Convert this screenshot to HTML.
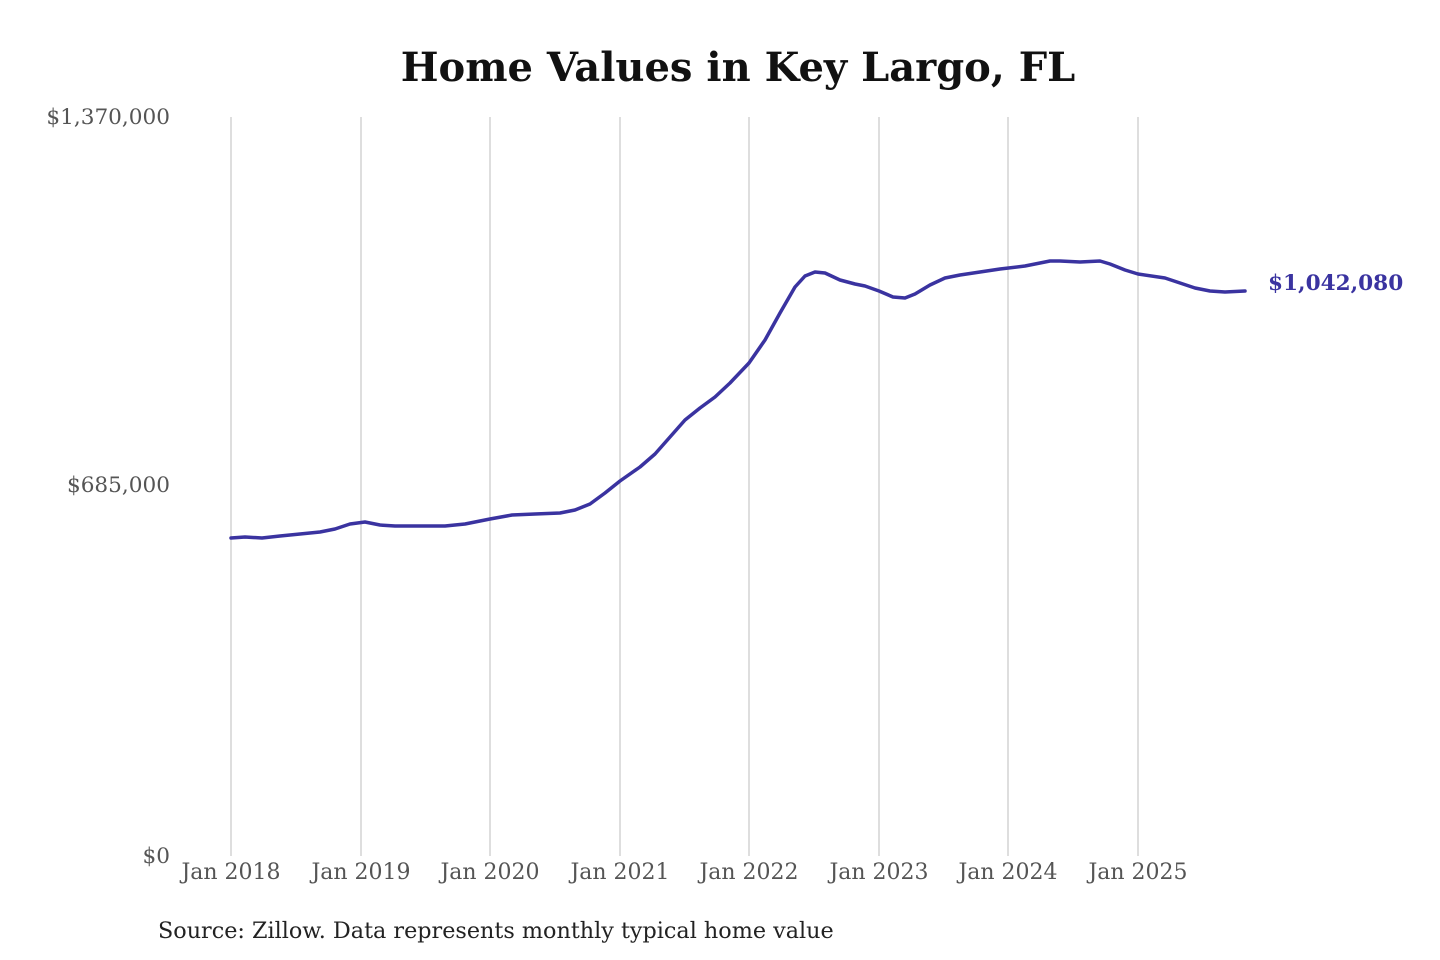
<!DOCTYPE html>
<html><head><meta charset="utf-8"><style>
html,body{margin:0;padding:0;background:#fff;}
svg{display:block;}
</style></head><body>
<svg width="1440" height="960" xmlns="http://www.w3.org/2000/svg" font-family="'DejaVu Serif','Liberation Serif',serif">
<rect width="1440" height="960" fill="#fff"/>
<text x="738" y="81" text-anchor="middle" font-size="40" font-weight="bold" fill="#111">Home Values in Key Largo, FL</text>
<g stroke="#c8c8c8" stroke-width="1.2">
<line x1="231" y1="117" x2="231" y2="856"/>
<line x1="361" y1="117" x2="361" y2="856"/>
<line x1="490" y1="117" x2="490" y2="856"/>
<line x1="620" y1="117" x2="620" y2="856"/>
<line x1="749" y1="117" x2="749" y2="856"/>
<line x1="879" y1="117" x2="879" y2="856"/>
<line x1="1008" y1="117" x2="1008" y2="856"/>
<line x1="1138" y1="117" x2="1138" y2="856"/>
</g>
<g font-size="21.6" fill="#555" text-anchor="end">
<text x="170" y="124">$1,370,000</text>
<text x="170" y="492">$685,000</text>
<text x="170" y="863">$0</text>
</g>
<g font-size="22" fill="#555" text-anchor="middle">
<text x="231" y="879">Jan 2018</text>
<text x="361" y="879">Jan 2019</text>
<text x="490" y="879">Jan 2020</text>
<text x="620" y="879">Jan 2021</text>
<text x="749" y="879">Jan 2022</text>
<text x="879" y="879">Jan 2023</text>
<text x="1008" y="879">Jan 2024</text>
<text x="1138" y="879">Jan 2025</text>
</g>
<polyline fill="none" stroke="#3a33a0" stroke-width="3.5" stroke-linejoin="round" stroke-linecap="round"
points="231,538 245,537 262,538 280,536 300,534 320,532 335,529 350,524 365,522 380,525 395,526 420,526 445,526 465,524 490,519 512,515 535,514 560,513 575,510 590,504 605,493 620,481 640,467 655,454 670,437 685,420 700,408 715,397 730,383 749,363 765,340 780,313 795,287 805,276 815,272 825,273 840,280 855,284 865,286 879,291 893,297 905,298 915,294 930,285 945,278 960,275 980,272 1000,269 1025,266 1050,261 1060,261 1080,262 1100,261 1110,264 1125,270 1138,274 1165,278 1180,283 1195,288 1210,291 1225,292 1245,291"/>
<text x="1268" y="290" font-size="21.6" font-weight="bold" fill="#3a33a0">$1,042,080</text>
<text x="158" y="938" font-size="22.3" fill="#222">Source: Zillow. Data represents monthly typical home value</text>
</svg>
</body></html>
